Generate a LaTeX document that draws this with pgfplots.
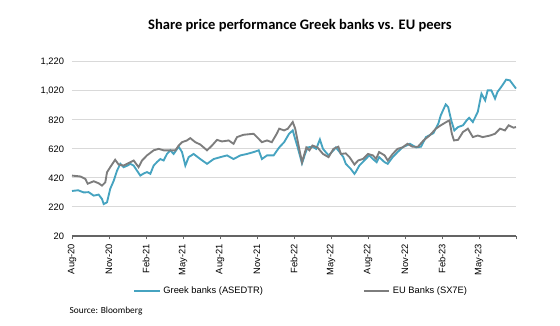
\documentclass[border=0pt]{standalone}
\usepackage{pgfplots}
\pgfplotsset{compat=1.18}
\usepackage{fontspec}
\setmainfont{Liberation Sans}
\newfontfamily\titlefont{Carlito}
\definecolor{greek}{RGB}{70,163,192}
\definecolor{eu}{RGB}{125,125,125}
\definecolor{gridc}{RGB}{217,217,217}
\definecolor{axc}{RGB}{100,100,100}
\begin{document}
\begin{tikzpicture}[x=0.75pt,y=0.75pt]
\begin{axis}[
  at={(0,0)}, anchor=south west,
  scale only axis, width=333pt, height=130.7pt,
  xmin=0, xmax=36, ymin=20, ymax=1220,
  axis x line*=bottom, axis y line*=left,
  x axis line style={draw=axc, line width=0.9pt, -},
  y axis line style={draw=none},
  xtick={0,3,...,36},
  xticklabels={Aug-20,Nov-20,Feb-21,May-21,Aug-21,Nov-21,Feb-22,May-22,Aug-22,Nov-22,Feb-23,May-23,{}},
  x tick label style={rotate=90, anchor=east, font=\fontsize{7}{8}\selectfont},
  tick align=outside, major tick length=2.5pt,
  x tick style={draw=axc, line width=0.6pt},
  ytick={20,220,420,620,820,1020,1220},
  yticklabels={20,220,420,620,820,{1,020},{1,220}},
  y tick label style={font=\fontsize{7}{8}\selectfont},
  y tick style={draw=none},
  ymajorgrids, grid style={gridc, line width=0.7pt},
  clip=false,
  legend columns=2,
  legend style={at={(0.138,-0.318)}, anchor=west, draw=none, fill=none,
    font=\fontsize{7}{8}\selectfont, inner sep=0pt,
    /tikz/every even column/.append style={column sep=73pt}},
  legend image code/.code={\draw[#1] (0pt,0pt) -- (19pt,0pt);},
]
\addplot[greek, line width=1.4pt] coordinates {
(0,330) (0.5,335) (0.95,320) (1.35,322) (1.76,298) (2.16,305) (2.43,275) (2.57,240) (2.84,252)
(3.1,345) (3.38,400) (3.65,470) (3.92,517) (4.19,494) (4.5,505) (4.73,517) (5.0,505) (5.27,470)
(5.54,436) (5.8,450) (6.08,460) (6.35,448) (6.62,505) (6.9,530) (7.16,550) (7.43,540) (7.7,585)
(7.97,610) (8.24,585) (8.65,635) (8.92,598) (9.19,505) (9.46,563) (9.86,585) (10.4,550) (10.95,517)
(11.49,550) (12.03,563) (12.57,575) (13.1,550) (13.65,575) (14.19,585) (14.73,598) (15.14,610)
(15.4,550) (15.81,575) (16.35,575) (16.8,630) (17.2,666) (17.6,724) (17.9,747) (18.05,701)
(18.3,630) (18.65,520) (18.9,585) (19.1,630) (19.5,635) (19.8,620) (20.1,685) (20.35,620)
(20.8,575) (21.2,610) (21.4,630) (21.7,598) (22.0,563) (22.2,517) (22.6,482) (22.9,448)
(23.0,460) (23.3,505) (23.7,540) (24.1,575) (24.4,550) (24.7,528) (24.9,563) (25.35,528)
(25.6,517) (26.0,563) (26.4,598) (26.8,630) (27.4,655) (27.9,630) (28.3,635) (28.7,701)
(29.3,728) (29.7,793) (29.9,851) (30.3,926) (30.5,908) (30.75,816) (31.0,747) (31.3,770)
(31.7,782) (32.0,816) (32.2,834) (32.5,805) (32.9,874) (33.2,1000) (33.5,954) (33.7,1023)
(34.0,1023) (34.3,966) (34.5,1012) (34.9,1058) (35.2,1097) (35.5,1092) (35.7,1069) (36.0,1035)
};
\addlegendentry{Greek banks (ASEDTR)}
\addplot[eu, line width=1.4pt] coordinates {
(0,436) (0.68,430) (1.08,413) (1.27,380) (1.76,397) (2.16,383) (2.43,367) (2.7,390) (2.84,459)
(3.1,494) (3.5,545) (3.78,512) (4.19,505) (4.73,528) (5.0,540) (5.4,494) (5.68,540) (6.08,575)
(6.62,610) (7.03,620) (7.43,610) (7.97,610) (8.38,610) (8.65,643) (8.92,666) (9.32,678)
(9.59,694) (10.0,666) (10.4,650) (10.95,610) (11.35,643) (11.76,682) (12.16,671) (12.7,678)
(13.1,655) (13.38,701) (13.9,717) (14.73,724) (15.0,701) (15.4,666) (15.81,678) (16.2,666)
(16.6,724) (16.8,759) (17.2,747) (17.5,759) (17.9,805) (18.1,759) (18.4,630) (18.65,528)
(19.0,630) (19.25,610) (19.5,643) (19.9,630) (20.35,585) (20.8,563) (21.2,620) (21.6,635)
(21.8,585) (22.2,589) (22.5,563) (22.9,512) (23.2,540) (23.6,551) (24.0,585) (24.4,575)
(24.65,551) (24.9,598) (25.35,575) (25.6,540) (26.0,585) (26.4,620) (26.8,630) (27.2,655)
(27.6,635) (28.05,635) (28.5,678) (29.0,712) (29.5,759) (29.9,782) (30.35,805) (30.6,816)
(30.8,724) (30.97,678) (31.3,682) (31.7,736) (32.1,759) (32.5,701) (32.9,712) (33.3,701)
(33.9,712) (34.3,724) (34.7,759) (35.1,747) (35.4,782) (35.8,766) (36.0,770)
};
\addlegendentry{EU Banks (SX7E)}
\end{axis}
\node[font=\titlefont\bfseries\fontsize{10.9}{12}\selectfont] at (228,210) {Share price performance Greek banks vs. EU peers};
\node[font=\titlefont\fontsize{7}{8}\selectfont, anchor=west] at (-7,-75) {Source: Bloomberg};
\pgfresetboundingbox
\useasboundingbox (-72,-89) rectangle (488,236);
\end{tikzpicture}
\end{document}
